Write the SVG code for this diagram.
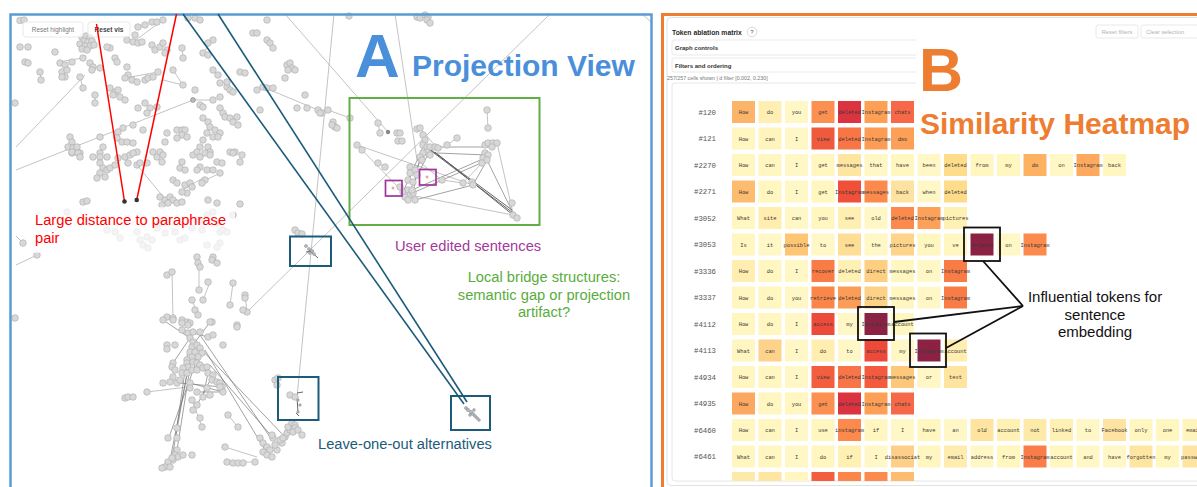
<svg xmlns="http://www.w3.org/2000/svg" xmlns:xlink="http://www.w3.org/1999/xlink" width="1197" height="487" viewBox="0 0 1197 487">
<defs>
<style>
.pt{fill:#d8d8d8;stroke:#a9a9a9;stroke-width:0.6}
.ed{stroke:#9a9a9a;stroke-width:0.6;fill:none}
.ed2{stroke:#7a7a7a;stroke-width:0.7;fill:none}
.ed3{stroke:#555;stroke-width:0.9;fill:none}
.lbl{font-family:"Liberation Sans",Arial,sans-serif;font-size:14.7px}
.tok{font-family:"Liberation Mono","DejaVu Sans Mono",monospace;font-size:5.4px;fill:#3a3a3a;text-anchor:middle}
.rl{font-family:"Liberation Mono","DejaVu Sans Mono",monospace;font-size:7.3px;fill:#555;text-anchor:end}
.ui{font-family:"Liberation Sans",Arial,sans-serif}
.teal{stroke:#1d5b7a;stroke-width:1.6;fill:none}
.callout{stroke:#111;stroke-width:1.8;fill:none}
</style>
<circle id="pt" class="pt" r="3.3"/>
<clipPath id="hmclip"><rect x="672" y="83" width="525" height="398"/></clipPath>
</defs>
<rect width="1197" height="487" fill="#fff"/>

<g id="projection-view">
<g id="pv-edges">
<line class="ed" x1="16" y1="147" x2="85" y2="75"/>
<line class="ed" x1="16" y1="170" x2="193" y2="100"/>
<line class="ed" x1="285" y1="14" x2="388" y2="132"/>
<line class="ed" x1="334" y1="14" x2="297" y2="397"/>
<line class="ed" x1="550" y1="14" x2="247" y2="312"/>
<line class="ed" x1="395" y1="14" x2="417" y2="160"/>
<line class="ed" x1="642" y1="14" x2="651" y2="22"/>
<line class="ed" x1="58" y1="62" x2="83" y2="58"/>
<line class="ed" x1="163" y1="80" x2="183" y2="85"/>
<line class="ed" x1="193" y1="100" x2="213" y2="100"/>
<line class="ed" x1="263" y1="87" x2="318" y2="110"/>
<line class="ed" x1="133" y1="42" x2="163" y2="20"/>
<line class="ed" x1="40" y1="72" x2="41" y2="80"/>
<line class="ed" x1="83" y1="88" x2="80" y2="77"/>
<line class="ed" x1="95" y1="95" x2="95" y2="103"/>
<line class="ed" x1="125" y1="78" x2="158" y2="72"/>
<line class="ed" x1="203" y1="53" x2="213" y2="40"/>
<line class="ed" x1="267" y1="40" x2="273" y2="48"/>
<line class="ed" x1="173" y1="70" x2="183" y2="85"/>
<line class="ed" x1="182" y1="48" x2="183" y2="58"/>
<line class="ed" x1="220" y1="108" x2="238" y2="125"/>
<line class="ed" x1="137" y1="165" x2="165" y2="199"/>
<line class="ed" x1="182" y1="190" x2="205" y2="177"/>
<line class="ed" x1="200" y1="183" x2="220" y2="173"/>
<line class="ed" x1="16" y1="265" x2="37" y2="255"/>
<line class="ed" x1="16" y1="236" x2="23" y2="243"/>
<line class="ed" x1="172" y1="272" x2="173" y2="318"/>
<line class="ed" x1="199" y1="262" x2="199" y2="290"/>
<line class="ed" x1="210" y1="282" x2="203" y2="300"/>
<line class="ed" x1="192" y1="300" x2="198" y2="315"/>
<line class="ed" x1="230" y1="305" x2="233" y2="283"/>
<line class="ed" x1="245" y1="295" x2="247" y2="312"/>
<line class="ed" x1="147" y1="392" x2="187" y2="387"/>
<line class="ed" x1="225" y1="447" x2="257" y2="457"/>
<line class="ed" x1="227" y1="462" x2="255" y2="462"/>
<line class="ed" x1="192" y1="400" x2="202" y2="427"/>
<line class="ed" x1="328" y1="110" x2="350" y2="118"/>
<line class="ed" x1="487" y1="110" x2="488" y2="128"/>
<line class="ed" x1="378" y1="123" x2="380" y2="133"/>
<line class="ed" x1="378" y1="163" x2="385" y2="167"/>
<line class="ed" x1="447" y1="145" x2="457" y2="138"/>
<line class="ed" x1="228" y1="415" x2="238" y2="427"/>
<line class="ed" x1="203" y1="397" x2="210" y2="395"/>
<line class="ed2" x1="188" y1="350" x2="175" y2="440"/>
<line class="ed2" x1="192" y1="355" x2="177" y2="450"/>
<line class="ed2" x1="190" y1="360" x2="170" y2="460"/>
<line class="ed2" x1="195" y1="365" x2="168" y2="440"/>
<line class="ed2" x1="187" y1="373" x2="172" y2="458"/>
<line class="ed2" x1="200" y1="335" x2="272" y2="440"/>
<line class="ed2" x1="205" y1="350" x2="265" y2="450"/>
<line class="ed2" x1="210" y1="365" x2="275" y2="440"/>
<line class="ed2" x1="200" y1="348" x2="285" y2="437"/>
<line class="ed2" x1="190" y1="383" x2="223" y2="392"/>
<line class="ed2" x1="180" y1="383" x2="222" y2="387"/>
<line class="ed2" x1="203" y1="368" x2="222" y2="385"/>
<line class="ed2" x1="213" y1="375" x2="197" y2="405"/>
<line class="ed2" x1="197" y1="392" x2="223" y2="392"/>
<line class="ed2" x1="173" y1="363" x2="190" y2="338"/>
<line class="ed2" x1="182" y1="330" x2="208" y2="337"/>
<line class="ed2" x1="208" y1="373" x2="203" y2="397"/>
<line class="ed2" x1="163" y1="320" x2="190" y2="338"/>
<line class="ed2" x1="210" y1="322" x2="193" y2="345"/>
<line class="ed" x1="357" y1="145" x2="473" y2="185"/>
<line class="ed" x1="362" y1="150" x2="398" y2="187"/>
<line class="ed3" x1="430" y1="150" x2="513" y2="213"/>
<line class="ed3" x1="435" y1="152" x2="513" y2="215"/>
<line class="ed3" x1="427" y1="147" x2="512" y2="210"/>
<line class="ed2" x1="437" y1="153" x2="487" y2="155"/>
<line class="ed2" x1="430" y1="147" x2="492" y2="147"/>
<line class="ed2" x1="487" y1="160" x2="513" y2="213"/>
<line class="ed2" x1="487" y1="160" x2="473" y2="185"/>
<line class="ed2" x1="412" y1="190" x2="485" y2="158"/>
<line class="ed2" x1="408" y1="195" x2="488" y2="160"/>
<line class="ed2" x1="415" y1="200" x2="473" y2="185"/>
<line class="ed" x1="410" y1="195" x2="513" y2="215"/>
<line class="ed2" x1="403" y1="192" x2="423" y2="147"/>
<line class="ed2" x1="410" y1="190" x2="430" y2="150"/>
<line class="ed2" x1="413" y1="193" x2="420" y2="157"/>
<line class="ed2" x1="408" y1="180" x2="427" y2="152"/>
<line class="ed" x1="442" y1="180" x2="463" y2="183"/>
<line class="ed" x1="482" y1="163" x2="463" y2="183"/>
<line class="ed" x1="497" y1="143" x2="513" y2="213"/>
<line class="ed" x1="420" y1="128" x2="437" y2="148"/>
<line class="ed" x1="417" y1="160" x2="442" y2="180"/>
<line class="ed3" x1="297" y1="393" x2="303" y2="392"/>
<line class="ed3" x1="297" y1="397" x2="298" y2="413"/>
<line class="ed3" x1="296" y1="413" x2="299" y2="416"/>
<line class="ed3" x1="308" y1="249" x2="318" y2="258"/>
<line class="ed3" x1="306" y1="252" x2="314" y2="251"/>
</g>

<g id="pv-points">
<use href="#pt" x="20" y="20.5"/><use href="#pt" x="24" y="20"/><use href="#pt" x="20" y="47"/><use href="#pt" x="28" y="47"/><use href="#pt" x="55" y="52"/><use href="#pt" x="25" y="62"/><use href="#pt" x="28" y="63"/><use href="#pt" x="60" y="63"/><use href="#pt" x="65" y="65"/><use href="#pt" x="72" y="62"/><use href="#pt" x="83" y="58"/><use href="#pt" x="62" y="72"/><use href="#pt" x="67" y="70"/><use href="#pt" x="65" y="77"/><use href="#pt" x="62" y="77"/><use href="#pt" x="40" y="72"/><use href="#pt" x="41" y="80"/><use href="#pt" x="80" y="77"/><use href="#pt" x="83" y="88"/><use href="#pt" x="90" y="63"/><use href="#pt" x="93" y="67"/><use href="#pt" x="92" y="70"/><use href="#pt" x="100" y="68"/><use href="#pt" x="110" y="48"/><use href="#pt" x="107" y="47"/><use href="#pt" x="115" y="58"/><use href="#pt" x="117" y="62"/><use href="#pt" x="127" y="67"/><use href="#pt" x="128" y="75"/><use href="#pt" x="125" y="78"/><use href="#pt" x="132" y="80"/><use href="#pt" x="137" y="82"/><use href="#pt" x="145" y="80"/><use href="#pt" x="148" y="78"/><use href="#pt" x="153" y="77"/><use href="#pt" x="158" y="72"/><use href="#pt" x="110" y="88"/><use href="#pt" x="115" y="92"/><use href="#pt" x="118" y="90"/><use href="#pt" x="113" y="95"/><use href="#pt" x="120" y="97"/><use href="#pt" x="125" y="100"/><use href="#pt" x="95" y="95"/><use href="#pt" x="95" y="103"/><use href="#pt" x="138" y="108"/><use href="#pt" x="145" y="103"/><use href="#pt" x="150" y="108"/><use href="#pt" x="147" y="113"/><use href="#pt" x="157" y="107"/><use href="#pt" x="135" y="35"/><use href="#pt" x="138" y="27"/><use href="#pt" x="145" y="25"/><use href="#pt" x="152" y="22"/><use href="#pt" x="157" y="22"/><use href="#pt" x="163" y="20"/><use href="#pt" x="127" y="40"/><use href="#pt" x="133" y="42"/><use href="#pt" x="138" y="43"/><use href="#pt" x="142" y="42"/><use href="#pt" x="152" y="45"/><use href="#pt" x="155" y="50"/><use href="#pt" x="160" y="47"/><use href="#pt" x="163" y="43"/><use href="#pt" x="167" y="50"/><use href="#pt" x="165" y="53"/><use href="#pt" x="182" y="48"/><use href="#pt" x="183" y="58"/><use href="#pt" x="173" y="70"/><use href="#pt" x="183" y="85"/><use href="#pt" x="195" y="90"/><use href="#pt" x="188" y="18"/><use href="#pt" x="195" y="18"/><use href="#pt" x="200" y="20"/><use href="#pt" x="203" y="53"/><use href="#pt" x="208" y="55"/><use href="#pt" x="213" y="40"/><use href="#pt" x="208" y="43"/><use href="#pt" x="213" y="70"/><use href="#pt" x="218" y="75"/><use href="#pt" x="220" y="83"/><use href="#pt" x="227" y="87"/><use href="#pt" x="230" y="90"/><use href="#pt" x="227" y="82"/><use href="#pt" x="233" y="92"/><use href="#pt" x="213" y="100"/><use href="#pt" x="220" y="97"/><use href="#pt" x="240" y="72"/><use href="#pt" x="245" y="73"/><use href="#pt" x="253" y="33"/><use href="#pt" x="257" y="33"/><use href="#pt" x="267" y="20"/><use href="#pt" x="267" y="40"/><use href="#pt" x="270" y="43"/><use href="#pt" x="273" y="48"/><use href="#pt" x="287" y="65"/><use href="#pt" x="290" y="63"/><use href="#pt" x="292" y="68"/><use href="#pt" x="288" y="70"/><use href="#pt" x="295" y="70"/><use href="#pt" x="285" y="78"/><use href="#pt" x="257" y="90"/><use href="#pt" x="263" y="87"/><use href="#pt" x="267" y="88"/><use href="#pt" x="273" y="88"/><use href="#pt" x="260" y="110"/><use href="#pt" x="297" y="108"/><use href="#pt" x="307" y="108"/><use href="#pt" x="305" y="95"/><use href="#pt" x="318" y="110"/><use href="#pt" x="322" y="113"/><use href="#pt" x="220" y="108"/><use href="#pt" x="223" y="113"/><use href="#pt" x="225" y="117"/><use href="#pt" x="230" y="118"/><use href="#pt" x="237" y="117"/><use href="#pt" x="233" y="122"/><use href="#pt" x="238" y="125"/><use href="#pt" x="200" y="105"/><use href="#pt" x="203" y="107"/><use href="#pt" x="203" y="118"/><use href="#pt" x="208" y="122"/><use href="#pt" x="210" y="127"/><use href="#pt" x="215" y="130"/><use href="#pt" x="220" y="133"/><use href="#pt" x="213" y="137"/><use href="#pt" x="218" y="137"/><use href="#pt" x="207" y="133"/><use href="#pt" x="203" y="140"/><use href="#pt" x="200" y="147"/><use href="#pt" x="208" y="147"/><use href="#pt" x="210" y="152"/><use href="#pt" x="177" y="130"/><use href="#pt" x="182" y="130"/><use href="#pt" x="185" y="130"/><use href="#pt" x="182" y="135"/><use href="#pt" x="177" y="138"/><use href="#pt" x="167" y="133"/><use href="#pt" x="165" y="142"/><use href="#pt" x="187" y="137"/><use href="#pt" x="230" y="152"/><use href="#pt" x="235" y="152"/><use href="#pt" x="143" y="130"/><use href="#pt" x="133" y="125"/><use href="#pt" x="123" y="128"/><use href="#pt" x="118" y="132"/><use href="#pt" x="117" y="138"/><use href="#pt" x="122" y="142"/><use href="#pt" x="127" y="142"/><use href="#pt" x="133" y="143"/><use href="#pt" x="137" y="152"/><use href="#pt" x="100" y="137"/><use href="#pt" x="103" y="147"/><use href="#pt" x="100" y="153"/><use href="#pt" x="93" y="157"/><use href="#pt" x="107" y="157"/><use href="#pt" x="70" y="137"/><use href="#pt" x="72" y="142"/><use href="#pt" x="68" y="147"/><use href="#pt" x="73" y="148"/><use href="#pt" x="77" y="147"/><use href="#pt" x="80" y="153"/><use href="#pt" x="72" y="153"/><use href="#pt" x="15" y="103"/>
<use href="#pt" x="82" y="37"/><use href="#pt" x="86" y="36"/><use href="#pt" x="90" y="38"/><use href="#pt" x="84" y="41"/><use href="#pt" x="88" y="42"/><use href="#pt" x="92" y="41"/><use href="#pt" x="80" y="44"/><use href="#pt" x="85" y="46"/><use href="#pt" x="90" y="46"/><use href="#pt" x="94" y="45"/><use href="#pt" x="82" y="49"/><use href="#pt" x="87" y="50"/>
<use href="#pt" x="72" y="152"/><use href="#pt" x="78" y="153"/><use href="#pt" x="80" y="157"/><use href="#pt" x="100" y="157"/><use href="#pt" x="100" y="163"/><use href="#pt" x="103" y="168"/><use href="#pt" x="107" y="170"/><use href="#pt" x="110" y="168"/><use href="#pt" x="115" y="165"/><use href="#pt" x="100" y="173"/><use href="#pt" x="105" y="177"/><use href="#pt" x="97" y="178"/><use href="#pt" x="118" y="158"/><use href="#pt" x="125" y="157"/><use href="#pt" x="130" y="155"/><use href="#pt" x="133" y="153"/><use href="#pt" x="128" y="163"/><use href="#pt" x="137" y="165"/><use href="#pt" x="140" y="163"/><use href="#pt" x="147" y="163"/><use href="#pt" x="153" y="152"/><use href="#pt" x="157" y="157"/><use href="#pt" x="160" y="152"/><use href="#pt" x="163" y="155"/><use href="#pt" x="162" y="162"/><use href="#pt" x="182" y="162"/><use href="#pt" x="180" y="168"/><use href="#pt" x="185" y="170"/><use href="#pt" x="173" y="180"/><use href="#pt" x="177" y="183"/><use href="#pt" x="185" y="185"/><use href="#pt" x="190" y="183"/><use href="#pt" x="192" y="187"/><use href="#pt" x="187" y="193"/><use href="#pt" x="182" y="192"/><use href="#pt" x="193" y="155"/><use href="#pt" x="197" y="152"/><use href="#pt" x="200" y="157"/><use href="#pt" x="205" y="153"/><use href="#pt" x="210" y="155"/><use href="#pt" x="200" y="167"/><use href="#pt" x="197" y="170"/><use href="#pt" x="207" y="170"/><use href="#pt" x="213" y="170"/><use href="#pt" x="220" y="173"/><use href="#pt" x="217" y="162"/><use href="#pt" x="222" y="163"/><use href="#pt" x="233" y="153"/><use href="#pt" x="242" y="155"/><use href="#pt" x="240" y="162"/><use href="#pt" x="205" y="180"/><use href="#pt" x="202" y="183"/><use href="#pt" x="160" y="197"/><use href="#pt" x="165" y="200"/><use href="#pt" x="170" y="197"/><use href="#pt" x="173" y="200"/><use href="#pt" x="168" y="203"/><use href="#pt" x="162" y="205"/><use href="#pt" x="177" y="203"/><use href="#pt" x="182" y="202"/><use href="#pt" x="208" y="200"/><use href="#pt" x="217" y="203"/><use href="#pt" x="240" y="204"/><use href="#pt" x="83" y="202"/><use href="#pt" x="87" y="201"/><use href="#pt" x="23" y="243"/><use href="#pt" x="37" y="255"/><use href="#pt" x="167" y="275"/><use href="#pt" x="172" y="272"/><use href="#pt" x="197" y="257"/><use href="#pt" x="198" y="263"/><use href="#pt" x="200" y="267"/><use href="#pt" x="213" y="257"/><use href="#pt" x="212" y="260"/><use href="#pt" x="217" y="263"/><use href="#pt" x="208" y="282"/><use href="#pt" x="203" y="300"/><use href="#pt" x="192" y="300"/><use href="#pt" x="195" y="310"/><use href="#pt" x="198" y="315"/><use href="#pt" x="233" y="283"/><use href="#pt" x="230" y="305"/><use href="#pt" x="245" y="295"/><use href="#pt" x="245" y="298"/><use href="#pt" x="247" y="312"/><use href="#pt" x="243" y="310"/><use href="#pt" x="167" y="317"/><use href="#pt" x="173" y="318"/><use href="#pt" x="182" y="320"/><use href="#pt" x="187" y="322"/><use href="#pt" x="190" y="323"/><use href="#pt" x="212" y="322"/><use href="#pt" x="237" y="325"/><use href="#pt" x="295" y="230"/><use href="#pt" x="298" y="233"/><use href="#pt" x="302" y="234"/><use href="#pt" x="15" y="318"/><use href="#pt" x="199" y="290"/>
<use href="#pt" x="67" y="212"/><use href="#pt" x="107" y="230"/><use href="#pt" x="115" y="232"/><use href="#pt" x="120" y="238"/><use href="#pt" x="137" y="232"/><use href="#pt" x="140" y="240"/><use href="#pt" x="147" y="237"/><use href="#pt" x="152" y="240"/><use href="#pt" x="143" y="245"/><use href="#pt" x="148" y="248"/><use href="#pt" x="157" y="228"/><use href="#pt" x="160" y="223"/><use href="#pt" x="165" y="233"/><use href="#pt" x="175" y="232"/><use href="#pt" x="180" y="240"/><use href="#pt" x="185" y="238"/><use href="#pt" x="192" y="228"/><use href="#pt" x="200" y="220"/><use href="#pt" x="202" y="230"/><use href="#pt" x="207" y="215"/><use href="#pt" x="213" y="212"/><use href="#pt" x="217" y="223"/><use href="#pt" x="220" y="232"/><use href="#pt" x="223" y="230"/><use href="#pt" x="227" y="232"/><use href="#pt" x="220" y="243"/><use href="#pt" x="217" y="247"/><use href="#pt" x="207" y="245"/><use href="#pt" x="233" y="215"/>
<use href="#pt" x="163" y="320"/><use href="#pt" x="173" y="320"/><use href="#pt" x="182" y="323"/><use href="#pt" x="188" y="325"/><use href="#pt" x="182" y="330"/><use href="#pt" x="188" y="333"/><use href="#pt" x="193" y="332"/><use href="#pt" x="200" y="332"/><use href="#pt" x="210" y="322"/><use href="#pt" x="237" y="327"/><use href="#pt" x="208" y="337"/><use href="#pt" x="213" y="335"/><use href="#pt" x="223" y="345"/><use href="#pt" x="167" y="345"/><use href="#pt" x="175" y="345"/><use href="#pt" x="167" y="349"/><use href="#pt" x="190" y="338"/><use href="#pt" x="193" y="342"/><use href="#pt" x="192" y="347"/><use href="#pt" x="197" y="345"/><use href="#pt" x="200" y="348"/><use href="#pt" x="190" y="352"/><use href="#pt" x="195" y="352"/><use href="#pt" x="202" y="353"/><use href="#pt" x="198" y="357"/><use href="#pt" x="192" y="357"/><use href="#pt" x="187" y="360"/><use href="#pt" x="187" y="363"/><use href="#pt" x="193" y="362"/><use href="#pt" x="197" y="363"/><use href="#pt" x="200" y="365"/><use href="#pt" x="188" y="367"/><use href="#pt" x="183" y="368"/><use href="#pt" x="182" y="373"/><use href="#pt" x="187" y="373"/><use href="#pt" x="192" y="370"/><use href="#pt" x="197" y="370"/><use href="#pt" x="203" y="368"/><use href="#pt" x="207" y="367"/><use href="#pt" x="208" y="373"/><use href="#pt" x="213" y="375"/><use href="#pt" x="212" y="380"/><use href="#pt" x="217" y="382"/><use href="#pt" x="220" y="383"/><use href="#pt" x="222" y="387"/><use href="#pt" x="173" y="363"/><use href="#pt" x="172" y="367"/><use href="#pt" x="175" y="370"/><use href="#pt" x="173" y="377"/><use href="#pt" x="170" y="382"/><use href="#pt" x="177" y="383"/><use href="#pt" x="163" y="383"/><use href="#pt" x="180" y="380"/><use href="#pt" x="190" y="383"/><use href="#pt" x="190" y="388"/><use href="#pt" x="197" y="392"/><use href="#pt" x="207" y="388"/><use href="#pt" x="223" y="392"/><use href="#pt" x="220" y="387"/><use href="#pt" x="147" y="392"/><use href="#pt" x="125" y="398"/><use href="#pt" x="128" y="397"/><use href="#pt" x="133" y="397"/><use href="#pt" x="192" y="400"/><use href="#pt" x="197" y="405"/><use href="#pt" x="193" y="410"/><use href="#pt" x="200" y="418"/><use href="#pt" x="202" y="427"/><use href="#pt" x="203" y="397"/><use href="#pt" x="210" y="395"/><use href="#pt" x="228" y="415"/><use href="#pt" x="238" y="427"/><use href="#pt" x="177" y="428"/><use href="#pt" x="168" y="438"/><use href="#pt" x="177" y="438"/><use href="#pt" x="177" y="450"/><use href="#pt" x="175" y="455"/><use href="#pt" x="178" y="457"/><use href="#pt" x="173" y="460"/><use href="#pt" x="168" y="462"/><use href="#pt" x="165" y="467"/><use href="#pt" x="162" y="468"/><use href="#pt" x="170" y="467"/><use href="#pt" x="172" y="458"/><use href="#pt" x="183" y="455"/><use href="#pt" x="192" y="455"/><use href="#pt" x="225" y="447"/><use href="#pt" x="227" y="462"/><use href="#pt" x="233" y="463"/><use href="#pt" x="238" y="463"/><use href="#pt" x="243" y="463"/><use href="#pt" x="255" y="462"/><use href="#pt" x="260" y="438"/><use href="#pt" x="263" y="443"/><use href="#pt" x="267" y="447"/><use href="#pt" x="263" y="452"/><use href="#pt" x="270" y="450"/><use href="#pt" x="267" y="455"/><use href="#pt" x="272" y="457"/><use href="#pt" x="277" y="450"/><use href="#pt" x="275" y="445"/><use href="#pt" x="282" y="443"/><use href="#pt" x="280" y="440"/><use href="#pt" x="285" y="437"/><use href="#pt" x="287" y="433"/><use href="#pt" x="290" y="430"/><use href="#pt" x="288" y="427"/><use href="#pt" x="292" y="423"/><use href="#pt" x="295" y="425"/><use href="#pt" x="295" y="428"/><use href="#pt" x="293" y="432"/><use href="#pt" x="298" y="430"/><use href="#pt" x="302" y="435"/><use href="#pt" x="283" y="438"/><use href="#pt" x="273" y="438"/><use href="#pt" x="272" y="435"/><use href="#pt" x="290" y="395"/><use href="#pt" x="295" y="397"/><use href="#pt" x="275" y="380"/><use href="#pt" x="278" y="378"/><use href="#pt" x="277" y="385"/>
<use href="#pt" x="487" y="110"/><use href="#pt" x="488" y="128"/><use href="#pt" x="378" y="123"/><use href="#pt" x="380" y="133"/><use href="#pt" x="397" y="133"/><use href="#pt" x="400" y="133"/><use href="#pt" x="398" y="141"/><use href="#pt" x="402" y="141"/><use href="#pt" x="357" y="145"/><use href="#pt" x="362" y="150"/><use href="#pt" x="417" y="129"/><use href="#pt" x="420" y="128"/><use href="#pt" x="423" y="135"/><use href="#pt" x="425" y="140"/><use href="#pt" x="423" y="145"/><use href="#pt" x="427" y="147"/><use href="#pt" x="430" y="147"/><use href="#pt" x="435" y="147"/><use href="#pt" x="438" y="148"/><use href="#pt" x="427" y="152"/><use href="#pt" x="423" y="153"/><use href="#pt" x="430" y="155"/><use href="#pt" x="420" y="157"/><use href="#pt" x="422" y="160"/><use href="#pt" x="447" y="145"/><use href="#pt" x="457" y="138"/><use href="#pt" x="485" y="145"/><use href="#pt" x="488" y="143"/><use href="#pt" x="493" y="143"/><use href="#pt" x="497" y="143"/><use href="#pt" x="492" y="147"/><use href="#pt" x="485" y="153"/><use href="#pt" x="488" y="155"/><use href="#pt" x="483" y="158"/><use href="#pt" x="482" y="163"/><use href="#pt" x="487" y="160"/><use href="#pt" x="378" y="163"/><use href="#pt" x="385" y="167"/><use href="#pt" x="410" y="167"/><use href="#pt" x="415" y="170"/><use href="#pt" x="417" y="175"/><use href="#pt" x="410" y="173"/><use href="#pt" x="408" y="180"/><use href="#pt" x="413" y="182"/><use href="#pt" x="442" y="180"/><use href="#pt" x="463" y="183"/><use href="#pt" x="472" y="182"/><use href="#pt" x="473" y="185"/><use href="#pt" x="400" y="187"/><use href="#pt" x="403" y="192"/><use href="#pt" x="408" y="190"/><use href="#pt" x="410" y="195"/><use href="#pt" x="413" y="193"/><use href="#pt" x="405" y="197"/><use href="#pt" x="408" y="200"/><use href="#pt" x="415" y="200"/><use href="#pt" x="412" y="190"/><use href="#pt" x="512" y="203"/><use href="#pt" x="513" y="215"/><use href="#pt" x="517" y="218"/><use href="#pt" x="417" y="17"/><use href="#pt" x="420" y="18"/><use href="#pt" x="425" y="15"/><use href="#pt" x="428" y="17"/><use href="#pt" x="427" y="20"/><use href="#pt" x="430" y="23"/><use href="#pt" x="349" y="16"/><use href="#pt" x="328" y="110"/><use href="#pt" x="320" y="113"/><use href="#pt" x="333" y="122"/><use href="#pt" x="335" y="127"/><use href="#pt" x="332" y="125"/><use href="#pt" x="337" y="128"/><use href="#pt" x="350" y="118"/>
<circle cx="388" cy="132" r="2.2" fill="#888"/>
<circle cx="193" cy="100" r="2.4" fill="#bbb" stroke="#777" stroke-width="0.6"/>
<g fill="#b8b8b8" stroke="#6f7f8a" stroke-width="0.4">
<circle cx="306" cy="246" r="1.6"/><circle cx="309" cy="249" r="1.6"/><circle cx="312" cy="251" r="1.6"/><circle cx="314" cy="254" r="1.5"/><circle cx="310" cy="253" r="1.5"/>
<circle cx="466" cy="408" r="1.6"/><circle cx="468" cy="410" r="1.7"/><circle cx="471" cy="412" r="1.7"/><circle cx="473" cy="414" r="1.6"/><circle cx="475" cy="416" r="1.6"/><circle cx="477" cy="418" r="1.5"/><circle cx="479" cy="420" r="1.4"/><circle cx="470" cy="415" r="1.4"/><circle cx="474" cy="410" r="1.4"/>
<circle cx="298" cy="400" r="1.3"/><circle cx="300" cy="405" r="1.3"/><circle cx="298" cy="412" r="1.3"/>
</g>
<circle cx="393" cy="188" r="1.5" fill="#e9a7a0"/>
<circle cx="427" cy="177" r="1.5" fill="#e9a7a0"/>
</g>

<rect x="33" y="207" width="202" height="46" fill="#fff" opacity="0.72"/>

<g id="pv-buttons" class="ui">
<rect x="23" y="22" width="60" height="15" rx="3" fill="#fff" fill-opacity="0.85" stroke="#e3e3e3" stroke-width="0.8"/>
<text x="53" y="32" font-size="6.4" fill="#7a7a7a" text-anchor="middle">Reset highlight</text>
<rect x="88" y="22" width="42" height="15" rx="3" fill="#fff" fill-opacity="0.6" stroke="#e3e3e3" stroke-width="0.8"/>
<text x="109" y="32" font-size="6.6" fill="#444" font-weight="bold" text-anchor="middle">Reset vis</text>
</g>

<rect id="pv-frame" x="10.5" y="14.5" width="641" height="490" fill="none" stroke="#5b9bd5" stroke-width="2.5"/>

<g id="green-region">
<rect x="349.5" y="98" width="190" height="127" fill="none" stroke="#62ad45" stroke-width="2"/>
</g>
<g id="purple-regions" fill="none" stroke="#a0349a" stroke-width="1.7">
<rect x="385.5" y="180.5" width="16.5" height="15.5"/>
<rect x="419.5" y="169.5" width="16.5" height="15.5"/>
</g>
<g id="loo-boxes" fill="none" stroke="#1d5b7a" stroke-width="2">
<rect x="290" y="236.5" width="41" height="29.5"/>
<rect x="278" y="377" width="40.5" height="43"/>
<rect x="451" y="396" width="39" height="34"/>
</g>

<g id="pv-title">
<text x="355" y="77" font-family="Liberation Sans,Arial,sans-serif" font-weight="bold" font-size="62" fill="#4a8fd9">A</text>
<text x="412" y="76" font-family="Liberation Sans,Arial,sans-serif" font-weight="bold" font-size="30" fill="#4a8fd9">Projection View</text>
</g>
<g id="pv-labels" class="lbl">
<text x="35" y="225" fill="#ff0000">Large distance to paraphrase</text>
<text x="35" y="242.5" fill="#ff0000">pair</text>
<text x="395" y="251" fill="#a3389c">User edited sentences</text>
<text x="544" y="282" fill="#5aac3e" text-anchor="middle">Local bridge structures:</text>
<text x="544" y="299.5" fill="#5aac3e" text-anchor="middle">semantic gap or projection</text>
<text x="544" y="317" fill="#5aac3e" text-anchor="middle">artifact?</text>
<text x="318" y="449" fill="#1d5b7a">Leave-one-out alternatives</text>
</g>
</g>

<g id="heatmap">
<rect x="662.5" y="14.5" width="560" height="490" fill="#fff" stroke="#ed7d31" stroke-width="3"/>
<rect x="667" y="17.5" width="545" height="468" rx="4" fill="#fff" stroke="#e2e2e2" stroke-width="1"/>
<g class="ui">
<text x="672" y="34.5" font-size="6.8" font-weight="bold" fill="#2a2a2a">Token ablation matrix</text>
<circle cx="752" cy="32" r="4.8" fill="#fff" stroke="#cfcfcf" stroke-width="0.8"/>
<text x="752" y="34.3" font-size="6" fill="#555" text-anchor="middle">?</text>
<rect x="1096" y="25" width="42" height="13" rx="2" fill="#fff" stroke="#e3e3e3" stroke-width="0.8"/>
<text x="1117" y="33.8" font-size="5.8" fill="#b3b3b3" text-anchor="middle">Reset filters</text>
<rect x="1141" y="25" width="70" height="13" rx="2" fill="#fff" stroke="#e3e3e3" stroke-width="0.8"/>
<text x="1146" y="33.8" font-size="5.8" fill="#b3b3b3">Clear selection</text>
<rect x="672" y="40" width="540" height="15" rx="2" fill="#fff" stroke="#e3e3e3" stroke-width="0.8"/>
<text x="675" y="50" font-size="6" font-weight="bold" fill="#333">Graph controls</text>
<rect x="672" y="58" width="540" height="14" rx="2" fill="#fff" stroke="#e3e3e3" stroke-width="0.8"/>
<text x="675" y="67.5" font-size="6" font-weight="bold" fill="#333">Filters and ordering</text>
<text x="667" y="80" font-size="5.3" fill="#777">257/257 cells shown | d filter [0.002, 0.230]</text>
</g>
<rect x="672" y="83" width="540" height="398" rx="3" fill="#fff" stroke="#e6e6e6" stroke-width="1"/>

<g id="hm-cells" clip-path="url(#hmclip)">
<g transform="translate(0,101)">
<text class="rl" x="716" y="13.5">#120</text>
<rect x="732" width="23" height="22" fill="#fbb46a"/><rect x="758.5" width="23" height="22" fill="#ffefb2"/><rect x="785" width="23" height="22" fill="#fff8c6"/><rect x="811.5" width="23" height="22" fill="#fc9050"/><rect x="838" width="23" height="22" fill="#db3340"/><rect x="864.5" width="23" height="22" fill="#fda055"/><rect x="891" width="23" height="22" fill="#f76848"/>
<text class="tok" x="743.5" y="13">How</text><text class="tok" x="770" y="13">do</text><text class="tok" x="796.5" y="13">you</text><text class="tok" x="823" y="13">get</text><text class="tok" x="849.5" y="13">deleted</text><text class="tok" x="876" y="13">Instagram</text><text class="tok" x="902.5" y="13">chats</text>
</g>
<g transform="translate(0,127.5)">
<text class="rl" x="716" y="13.5">#121</text>
<rect x="732" width="23" height="22" fill="#fff6c0"/><rect x="758.5" width="23" height="22" fill="#fff4bc"/><rect x="785" width="23" height="22" fill="#fff8c6"/><rect x="811.5" width="23" height="22" fill="#f05a3c"/><rect x="838" width="23" height="22" fill="#f87545"/><rect x="864.5" width="23" height="22" fill="#fc9c55"/><rect x="891" width="23" height="22" fill="#fca058"/>
<text class="tok" x="743.5" y="13">How</text><text class="tok" x="770" y="13">can</text><text class="tok" x="796.5" y="13">I</text><text class="tok" x="823" y="13">view</text><text class="tok" x="849.5" y="13">deleted</text><text class="tok" x="876" y="13">Instagram</text><text class="tok" x="902.5" y="13">dms</text>
</g>
<g transform="translate(0,154)">
<text class="rl" x="716" y="13.5">#2270</text>
<rect x="732" width="23" height="22" fill="#fff6c0"/><rect x="758.5" width="23" height="22" fill="#fff6c0"/><rect x="785" width="23" height="22" fill="#fff8c6"/><rect x="811.5" width="23" height="22" fill="#fff6c0"/><rect x="838" width="23" height="22" fill="#fee6a0"/><rect x="864.5" width="23" height="22" fill="#fff8c6"/><rect x="891" width="23" height="22" fill="#fff6c0"/><rect x="917.5" width="23" height="22" fill="#fff8c6"/><rect x="944" width="23" height="22" fill="#fedc8a"/><rect x="970.5" width="23" height="22" fill="#fff6c0"/><rect x="997" width="23" height="22" fill="#fff6c0"/><rect x="1023.5" width="23" height="22" fill="#fdb262"/><rect x="1050" width="23" height="22" fill="#fff8c6"/><rect x="1076.5" width="23" height="22" fill="#fdaa5e"/><rect x="1103" width="23" height="22" fill="#fff6c0"/>
<text class="tok" x="743.5" y="13">How</text><text class="tok" x="770" y="13">can</text><text class="tok" x="796.5" y="13">I</text><text class="tok" x="823" y="13">get</text><text class="tok" x="849.5" y="13">messages</text><text class="tok" x="876" y="13">that</text><text class="tok" x="902.5" y="13">have</text><text class="tok" x="929" y="13">been</text><text class="tok" x="955.5" y="13">deleted</text><text class="tok" x="982" y="13">from</text><text class="tok" x="1008.5" y="13">my</text><text class="tok" x="1035" y="13">dm</text><text class="tok" x="1061.5" y="13">on</text><text class="tok" x="1088" y="13">Instagram</text><text class="tok" x="1114.5" y="13">back</text>
</g>
<g transform="translate(0,180.5)">
<text class="rl" x="716" y="13.5">#2271</text>
<rect x="732" width="23" height="22" fill="#fdbc70"/><rect x="758.5" width="23" height="22" fill="#fff6c0"/><rect x="785" width="23" height="22" fill="#fff8c6"/><rect x="811.5" width="23" height="22" fill="#fff6c0"/><rect x="838" width="23" height="22" fill="#f04f3a"/><rect x="864.5" width="23" height="22" fill="#fc8a4c"/><rect x="891" width="23" height="22" fill="#fee3a0"/><rect x="917.5" width="23" height="22" fill="#fff8c6"/><rect x="944" width="23" height="22" fill="#fedc8a"/>
<text class="tok" x="743.5" y="13">How</text><text class="tok" x="770" y="13">do</text><text class="tok" x="796.5" y="13">I</text><text class="tok" x="823" y="13">get</text><text class="tok" x="849.5" y="13">Instagram</text><text class="tok" x="876" y="13">messages</text><text class="tok" x="902.5" y="13">back</text><text class="tok" x="929" y="13">when</text><text class="tok" x="955.5" y="13">deleted</text>
</g>
<g transform="translate(0,207)">
<text class="rl" x="716" y="13.5">#3052</text>
<rect x="732" width="23" height="22" fill="#fff6c0"/><rect x="758.5" width="23" height="22" fill="#ffeeae"/><rect x="785" width="23" height="22" fill="#fff8c6"/><rect x="811.5" width="23" height="22" fill="#fff6c0"/><rect x="838" width="23" height="22" fill="#fff0b2"/><rect x="864.5" width="23" height="22" fill="#fff8c6"/><rect x="891" width="23" height="22" fill="#fc8a4c"/><rect x="917.5" width="23" height="22" fill="#fda058"/><rect x="944" width="23" height="22" fill="#fff0b4"/>
<text class="tok" x="743.5" y="13">What</text><text class="tok" x="770" y="13">site</text><text class="tok" x="796.5" y="13">can</text><text class="tok" x="823" y="13">you</text><text class="tok" x="849.5" y="13">see</text><text class="tok" x="876" y="13">old</text><text class="tok" x="902.5" y="13">deleted</text><text class="tok" x="929" y="13">Instagram</text><text class="tok" x="955.5" y="13">pictures</text>
</g>
<g transform="translate(0,233.5)">
<text class="rl" x="716" y="13.5">#3053</text>
<rect x="732" width="23" height="22" fill="#fff6c0"/><rect x="758.5" width="23" height="22" fill="#fff8c6"/><rect x="785" width="23" height="22" fill="#fec673"/><rect x="811.5" width="23" height="22" fill="#fff8c6"/><rect x="838" width="23" height="22" fill="#fedd94"/><rect x="864.5" width="23" height="22" fill="#fff8c6"/><rect x="891" width="23" height="22" fill="#fed48a"/><rect x="917.5" width="23" height="22" fill="#fff6c0"/><rect x="944" width="23" height="22" fill="#fff6c0"/><rect x="970.5" width="23" height="22" fill="#8c2243"/><rect x="997" width="23" height="22" fill="#fff8c6"/><rect x="1023.5" width="23" height="22" fill="#fc8a4c"/>
<text class="tok" x="743.5" y="13">Is</text><text class="tok" x="770" y="13">it</text><text class="tok" x="796.5" y="13">possible</text><text class="tok" x="823" y="13">to</text><text class="tok" x="849.5" y="13">see</text><text class="tok" x="876" y="13">the</text><text class="tok" x="902.5" y="13">pictures</text><text class="tok" x="929" y="13">you</text><text class="tok" x="955.5" y="13">ve</text><text class="tok" x="982" y="13">deleted</text><text class="tok" x="1008.5" y="13">on</text><text class="tok" x="1035" y="13">Instagram</text>
</g>
<g transform="translate(0,260)">
<text class="rl" x="716" y="13.5">#3336</text>
<rect x="732" width="23" height="22" fill="#ffeeb0"/><rect x="758.5" width="23" height="22" fill="#fff6c0"/><rect x="785" width="23" height="22" fill="#fff8c6"/><rect x="811.5" width="23" height="22" fill="#f97b45"/><rect x="838" width="23" height="22" fill="#fff0b4"/><rect x="864.5" width="23" height="22" fill="#fecf80"/><rect x="891" width="23" height="22" fill="#fff6c0"/><rect x="917.5" width="23" height="22" fill="#fff8c6"/><rect x="944" width="23" height="22" fill="#f97b45"/>
<text class="tok" x="743.5" y="13">How</text><text class="tok" x="770" y="13">do</text><text class="tok" x="796.5" y="13">I</text><text class="tok" x="823" y="13">recover</text><text class="tok" x="849.5" y="13">deleted</text><text class="tok" x="876" y="13">direct</text><text class="tok" x="902.5" y="13">messages</text><text class="tok" x="929" y="13">on</text><text class="tok" x="955.5" y="13">Instagram</text>
</g>
<g transform="translate(0,286.5)">
<text class="rl" x="716" y="13.5">#3337</text>
<rect x="732" width="23" height="22" fill="#fff6c0"/><rect x="758.5" width="23" height="22" fill="#fff6c0"/><rect x="785" width="23" height="22" fill="#fff8c6"/><rect x="811.5" width="23" height="22" fill="#fa8649"/><rect x="838" width="23" height="22" fill="#fc9c56"/><rect x="864.5" width="23" height="22" fill="#fed286"/><rect x="891" width="23" height="22" fill="#fff6c0"/><rect x="917.5" width="23" height="22" fill="#fff8c6"/><rect x="944" width="23" height="22" fill="#f97b45"/>
<text class="tok" x="743.5" y="13">How</text><text class="tok" x="770" y="13">do</text><text class="tok" x="796.5" y="13">you</text><text class="tok" x="823" y="13">retrieve</text><text class="tok" x="849.5" y="13">deleted</text><text class="tok" x="876" y="13">direct</text><text class="tok" x="902.5" y="13">messages</text><text class="tok" x="929" y="13">on</text><text class="tok" x="955.5" y="13">Instagram</text>
</g>
<g transform="translate(0,313)">
<text class="rl" x="716" y="13.5">#4112</text>
<rect x="732" width="23" height="22" fill="#fff6c0"/><rect x="758.5" width="23" height="22" fill="#fff6c0"/><rect x="785" width="23" height="22" fill="#fff8c6"/><rect x="811.5" width="23" height="22" fill="#ee4a3a"/><rect x="838" width="23" height="22" fill="#fff8c6"/><rect x="864.5" width="23" height="22" fill="#8c2243"/><rect x="891" width="23" height="22" fill="#fff6c0"/>
<text class="tok" x="743.5" y="13">How</text><text class="tok" x="770" y="13">do</text><text class="tok" x="796.5" y="13">I</text><text class="tok" x="823" y="13">access</text><text class="tok" x="849.5" y="13">my</text><text class="tok" x="876" y="13">Instagram</text><text class="tok" x="902.5" y="13">account</text>
</g>
<g transform="translate(0,339.5)">
<text class="rl" x="716" y="13.5">#4113</text>
<rect x="732" width="23" height="22" fill="#fff6c0"/><rect x="758.5" width="23" height="22" fill="#fed28a"/><rect x="785" width="23" height="22" fill="#fff8c6"/><rect x="811.5" width="23" height="22" fill="#ffeeb0"/><rect x="838" width="23" height="22" fill="#fff8c6"/><rect x="864.5" width="23" height="22" fill="#ee4a3a"/><rect x="891" width="23" height="22" fill="#fff8c6"/><rect x="917.5" width="23" height="22" fill="#8c2243"/><rect x="944" width="23" height="22" fill="#ffeeb0"/>
<text class="tok" x="743.5" y="13">What</text><text class="tok" x="770" y="13">can</text><text class="tok" x="796.5" y="13">I</text><text class="tok" x="823" y="13">do</text><text class="tok" x="849.5" y="13">to</text><text class="tok" x="876" y="13">access</text><text class="tok" x="902.5" y="13">my</text><text class="tok" x="929" y="13">Instagram</text><text class="tok" x="955.5" y="13">account</text>
</g>
<g transform="translate(0,366)">
<text class="rl" x="716" y="13.5">#4934</text>
<rect x="732" width="23" height="22" fill="#fff6c0"/><rect x="758.5" width="23" height="22" fill="#fff6c0"/><rect x="785" width="23" height="22" fill="#fff8c6"/><rect x="811.5" width="23" height="22" fill="#f25e3e"/><rect x="838" width="23" height="22" fill="#f77548"/><rect x="864.5" width="23" height="22" fill="#f35a3e"/><rect x="891" width="23" height="22" fill="#fec87a"/><rect x="917.5" width="23" height="22" fill="#fff8c6"/><rect x="944" width="23" height="22" fill="#fee49e"/>
<text class="tok" x="743.5" y="13">How</text><text class="tok" x="770" y="13">can</text><text class="tok" x="796.5" y="13">I</text><text class="tok" x="823" y="13">view</text><text class="tok" x="849.5" y="13">deleted</text><text class="tok" x="876" y="13">Instagram</text><text class="tok" x="902.5" y="13">messages</text><text class="tok" x="929" y="13">or</text><text class="tok" x="955.5" y="13">text</text>
</g>
<g transform="translate(0,392.5)">
<text class="rl" x="716" y="13.5">#4935</text>
<rect x="732" width="23" height="22" fill="#fda860"/><rect x="758.5" width="23" height="22" fill="#fff6c0"/><rect x="785" width="23" height="22" fill="#fff6c0"/><rect x="811.5" width="23" height="22" fill="#fc9050"/><rect x="838" width="23" height="22" fill="#db3340"/><rect x="864.5" width="23" height="22" fill="#fda055"/><rect x="891" width="23" height="22" fill="#f76848"/>
<text class="tok" x="743.5" y="13">How</text><text class="tok" x="770" y="13">do</text><text class="tok" x="796.5" y="13">you</text><text class="tok" x="823" y="13">get</text><text class="tok" x="849.5" y="13">deleted</text><text class="tok" x="876" y="13">Instagram</text><text class="tok" x="902.5" y="13">chats</text>
</g>
<g transform="translate(0,419)">
<text class="rl" x="716" y="13.5">#6460</text>
<rect x="732" width="23" height="22" fill="#fff6c0"/><rect x="758.5" width="23" height="22" fill="#fff6c0"/><rect x="785" width="23" height="22" fill="#fff8c6"/><rect x="811.5" width="23" height="22" fill="#fff6c0"/><rect x="838" width="23" height="22" fill="#fc8a4c"/><rect x="864.5" width="23" height="22" fill="#fff6c0"/><rect x="891" width="23" height="22" fill="#fff8c6"/><rect x="917.5" width="23" height="22" fill="#fff6c0"/><rect x="944" width="23" height="22" fill="#fff8c6"/><rect x="970.5" width="23" height="22" fill="#fee49e"/><rect x="997" width="23" height="22" fill="#fff0b4"/><rect x="1023.5" width="23" height="22" fill="#feeaa8"/><rect x="1050" width="23" height="22" fill="#fff0b4"/><rect x="1076.5" width="23" height="22" fill="#fff8c6"/><rect x="1103" width="23" height="22" fill="#fee4a0"/><rect x="1129.5" width="23" height="22" fill="#fff6c0"/><rect x="1156" width="23" height="22" fill="#fff6c0"/><rect x="1182.5" width="23" height="22" fill="#fff4bc"/>
<text class="tok" x="743.5" y="13">How</text><text class="tok" x="770" y="13">can</text><text class="tok" x="796.5" y="13">I</text><text class="tok" x="823" y="13">use</text><text class="tok" x="849.5" y="13">instagram</text><text class="tok" x="876" y="13">if</text><text class="tok" x="902.5" y="13">I</text><text class="tok" x="929" y="13">have</text><text class="tok" x="955.5" y="13">an</text><text class="tok" x="982" y="13">old</text><text class="tok" x="1008.5" y="13">account</text><text class="tok" x="1035" y="13">not</text><text class="tok" x="1061.5" y="13">linked</text><text class="tok" x="1088" y="13">to</text><text class="tok" x="1114.5" y="13">Facebook</text><text class="tok" x="1141" y="13">only</text><text class="tok" x="1167.5" y="13">one</text><text class="tok" x="1194" y="13">email</text>
</g>
<g transform="translate(0,445.5)">
<text class="rl" x="716" y="13.5">#6461</text>
<rect x="732" width="23" height="22" fill="#fff6c0"/><rect x="758.5" width="23" height="22" fill="#fff6c0"/><rect x="785" width="23" height="22" fill="#fff8c6"/><rect x="811.5" width="23" height="22" fill="#fff6c0"/><rect x="838" width="23" height="22" fill="#fff0b4"/><rect x="864.5" width="23" height="22" fill="#fff8c6"/><rect x="891" width="23" height="22" fill="#fecf88"/><rect x="917.5" width="23" height="22" fill="#fff6c0"/><rect x="944" width="23" height="22" fill="#ffedb0"/><rect x="970.5" width="23" height="22" fill="#fff8c6"/><rect x="997" width="23" height="22" fill="#fff6c0"/><rect x="1023.5" width="23" height="22" fill="#fa7c48"/><rect x="1050" width="23" height="22" fill="#fff6c0"/><rect x="1076.5" width="23" height="22" fill="#fff8c6"/><rect x="1103" width="23" height="22" fill="#fff8c6"/><rect x="1129.5" width="23" height="22" fill="#fee6a0"/><rect x="1156" width="23" height="22" fill="#fff6c0"/><rect x="1182.5" width="23" height="22" fill="#fee4a0"/>
<text class="tok" x="743.5" y="13">What</text><text class="tok" x="770" y="13">can</text><text class="tok" x="796.5" y="13">I</text><text class="tok" x="823" y="13">do</text><text class="tok" x="849.5" y="13">if</text><text class="tok" x="876" y="13">I</text><text class="tok" x="902.5" y="13">disassociat</text><text class="tok" x="929" y="13">my</text><text class="tok" x="955.5" y="13">email</text><text class="tok" x="982" y="13">address</text><text class="tok" x="1008.5" y="13">from</text><text class="tok" x="1035" y="13">Instagram</text><text class="tok" x="1061.5" y="13">account</text><text class="tok" x="1088" y="13">and</text><text class="tok" x="1114.5" y="13">have</text><text class="tok" x="1141" y="13">forgotten</text><text class="tok" x="1167.5" y="13">my</text><text class="tok" x="1194" y="13">password</text>
</g>
<g transform="translate(0,472)">
<rect x="732" width="23" height="22" fill="#feeaa8"/><rect x="758.5" width="23" height="22" fill="#fee6a0"/><rect x="785" width="23" height="22" fill="#fff6c0"/><rect x="811.5" width="23" height="22" fill="#f25e3e"/><rect x="838" width="23" height="22" fill="#fa8649"/><rect x="864.5" width="23" height="22" fill="#fc8a4c"/><rect x="891" width="23" height="22" fill="#fdbc70"/>
</g>
</g>

<rect x="916" y="39" width="281" height="101" fill="#fff"/>
<text x="919" y="91" font-family="Liberation Sans,Arial,sans-serif" font-weight="bold" font-size="61" fill="#ed7d31">B</text>
<text x="920" y="134" font-family="Liberation Sans,Arial,sans-serif" font-weight="bold" font-size="30" fill="#ed7d31">Similarity Heatmap</text>

<g id="callout-boxes" class="callout">
<rect x="964" y="227.5" width="36" height="33.5"/>
<rect x="858" y="307" width="36" height="33"/>
<rect x="910" y="333.5" width="36" height="33.5"/>
</g>
<g id="callout-label" class="lbl" fill="#111" text-anchor="middle" style="font-size:15px">
<text x="1095" y="302">Influential tokens for</text>
<text x="1095" y="319.5">sentence</text>
<text x="1095" y="337">embedding</text>
</g>
</g>

<g id="connectors">
<line x1="96.5" y1="24" x2="124.5" y2="201.5" stroke="#ff0000" stroke-width="1.5"/>
<line x1="176.5" y1="14" x2="136.7" y2="200" stroke="#ff0000" stroke-width="1.5"/>
<circle cx="124.5" cy="201.5" r="2.3" fill="#333"/>
<circle cx="136.7" cy="200" r="2.3" fill="#333"/>
<line class="teal" x1="183" y1="14" x2="464" y2="404"/>
<line class="teal" x1="218" y1="14" x2="467" y2="402"/>
<line class="callout" x1="983" y1="261" x2="1023" y2="306"/>
<line class="callout" x1="894" y1="322" x2="1023" y2="306"/>
<line class="callout" x1="946" y1="348" x2="1023" y2="306"/>
</g>
</svg>
